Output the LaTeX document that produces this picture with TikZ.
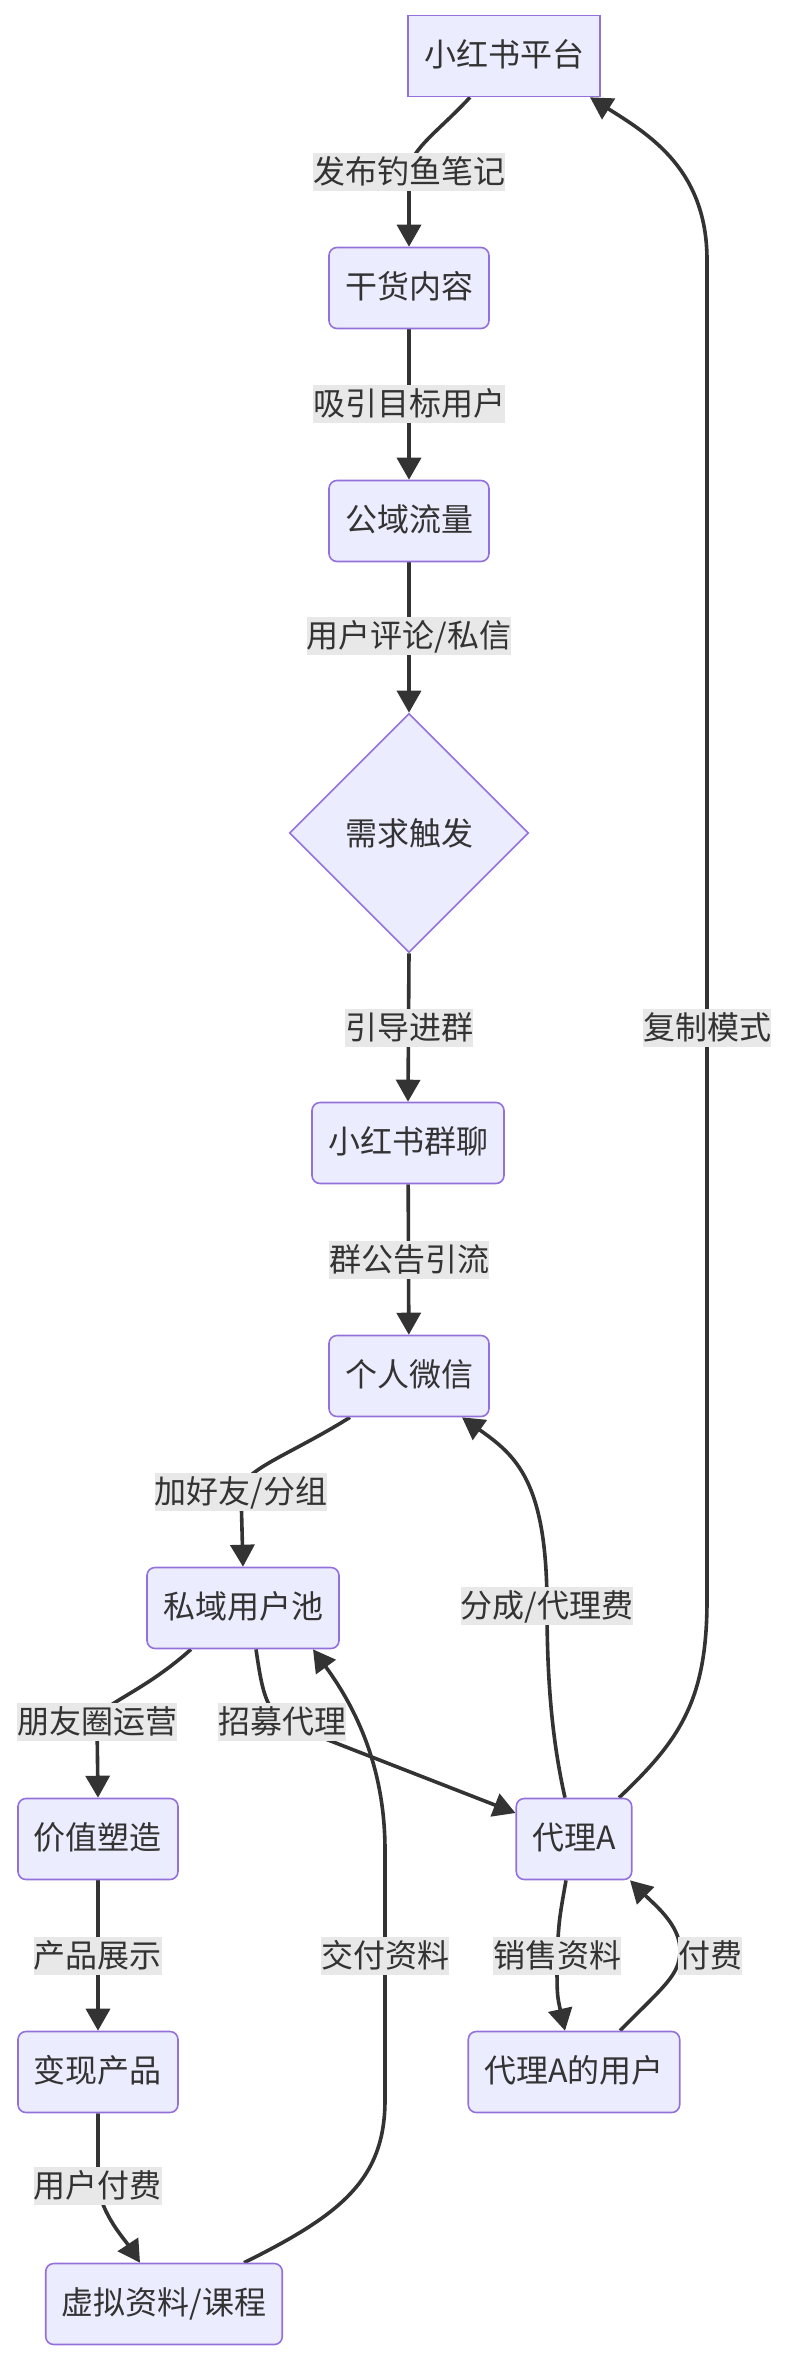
\documentclass[tikz,border=0pt]{standalone}
\usepackage{fontspec}
\setmainfont{Noto Sans CJK SC}
\usetikzlibrary{arrows.meta,shapes.geometric}
\definecolor{nodefill}{HTML}{ECECFF}
\definecolor{nodeline}{HTML}{9370DB}
\definecolor{edgecol}{HTML}{333333}
\definecolor{lblfill}{HTML}{E8E8E8}
\definecolor{txtcol}{HTML}{333333}
\pgfdeclarelayer{edgelayer}
\pgfsetlayers{edgelayer,main}
\begin{document}
\begin{tikzpicture}[x=1pt,y=-1pt,
 every node/.style={font=\fontsize{32pt}{38pt}\selectfont, text=txtcol},
 box/.style={draw=nodeline, fill=nodefill, line width=1.6pt, rounded corners=8pt, minimum height=81pt, inner xsep=16pt, inner ysep=0pt, text height=26pt, text depth=6pt},
 sqbox/.style={box, sharp corners},
 dia/.style={diamond, draw=nodeline, fill=nodefill, line width=1.6pt, minimum width=239pt, minimum height=239pt, inner sep=0pt},
 lbl/.style={fill=lblfill, inner xsep=0pt, inner ysep=2pt, text height=28pt, text depth=6pt},
 link/.style={draw=edgecol, line width=3.6pt, -{Triangle[length=22pt,width=24pt]}}
]
\useasboundingbox (0,0) rectangle (788,2364);

% nodes
\node[sqbox] (plat) at (504,56) {小红书平台};
\node[box] (gh) at (409,288) {干货内容};
\node[box] (gy) at (409,521) {公域流量};
\node[dia] (need) at (409,833) {需求触发};
\node[box] (qun) at (408,1143) {小红书群聊};
\node[box] (wx) at (409,1376) {个人微信};
\node[box] (siyu) at (243,1608) {私域用户池};
\node[box] (jiazhi) at (98,1839) {价值塑造};
\node[box] (dA) at (574,1839) {代理A};
\node[box] (bx) at (98,2072) {变现产品};
\node[box] (dAu) at (574,2072) {代理A的用户};
\node[box] (xuni) at (164,2304) {虚拟资料/课程};

% edge labels
\node[lbl] (l1) at (409,172) {发布钓鱼笔记};
\node[lbl] (l2) at (409,404) {吸引目标用户};
\node[lbl] (l3) at (409,636) {用户评论/私信};
\node[lbl] (l4) at (409,1028) {引导进群};
\node[lbl] (l5) at (409,1260) {群公告引流};
\node[lbl] (l6) at (241,1492) {加好友/分组};
\node[lbl] (l7) at (547,1606) {分成/代理费};
\node[lbl] (l8) at (707,1028) {复制模式};
\node[lbl] (l9) at (97,1722) {朋友圈运营};
\node[lbl] (l10) at (282,1722) {招募代理};
\node[lbl] (l11) at (98,1956) {产品展示};
\node[lbl] (l12) at (385,1956) {交付资料};
\node[lbl] (l13) at (557,1956) {销售资料};
\node[lbl] (l14) at (710,1956) {付费};
\node[lbl] (l15) at (98,2186) {用户付费};

% edges
\begin{pgfonlayer}{edgelayer}
\draw[link] ([xshift=-34pt]plat.south) .. controls (440,130) and (409,150) .. (l1.center) -- (gh.north);
\draw[link] (gh) -- (gy);
\draw[link] (gy) -- (need);
\draw[link] (need.south) -- (qun.north);
\draw[link] (qun) -- (wx);
\draw[link] ([xshift=-59pt]wx.south) .. controls (290,1455) and (241,1470) .. (l6.center) -- (siyu.north);
\draw[link] ([xshift=-52pt]siyu.south) .. controls (140,1695) and (97,1705) .. (l9.center) -- (jiazhi.north);
\draw[link] ([xshift=13pt]siyu.south) .. controls (262,1690) and (265,1705) .. (l10.center) -- ([yshift=26pt]dA.west);
\draw[link] ([xshift=-9pt]dA.north) .. controls (552,1740) and (547,1680) .. (l7.center) .. controls (547,1480) and (515,1455) .. ([xshift=53pt]wx.south);
\draw[link] ([xshift=45pt]dA.north) .. controls (680,1740) and (707,1700) .. (707,1600) -- (l8.center) -- (707,260) .. controls (707,170) and (650,135) .. ([xshift=86pt]plat.south);
\draw[link] ([xshift=-8pt]dA.south) .. controls (559,1920) .. (l13.center) .. controls (557,1995) .. ([xshift=-9pt]dAu.north);
\draw[link] ([xshift=46pt]dAu.north) .. controls (665,1985) and (680,1975) .. (680,1950) .. controls (680,1925) and (655,1905) .. ([xshift=56pt]dA.south);
\draw[link] (jiazhi) -- (bx);
\draw[link] (bx.south) -- (l15.center) .. controls (102,2215) and (125,2240) .. ([xshift=-24pt]xuni.north);
\draw[link] ([xshift=80pt]xuni.north) .. controls (340,2215) and (385,2180) .. (385,2100) -- (l12.center) -- (385,1850) .. controls (385,1760) and (350,1700) .. ([xshift=70pt]siyu.south);
\end{pgfonlayer}
\end{tikzpicture}
\end{document}
